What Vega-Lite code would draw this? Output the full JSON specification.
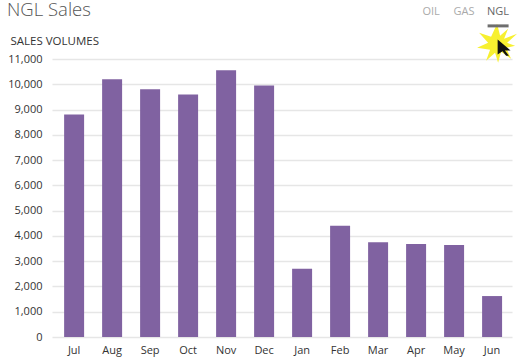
{
"$schema":"https://vega.github.io/schema/vega-lite/v6.json",
"width":460,"height":278,
"autosize":{"type":"none"},
"padding":{"left":52,"top":59,"right":7,"bottom":27},
"background":"white",
"title":{"text":"NGL Sales","anchor":"start","frame":"group","dx":-45,"offset":-14,"font":"Open Sans","fontSize":18.5,"fontWeight":300,"color":"#555555"},
"config":{"view":{"stroke":null},"font":"Open Sans"},
"encoding":{
"x":{"field":"month","type":"ordinal","scale":{"domain":["Jul","Aug","Sep","Oct","Nov","Dec","Jan","Feb","Mar","Apr","May","Jun"],"paddingInner":0.474,"paddingOuter":0.29,"align":0.55},
"axis":{"title":null,"labelAngle":0,"domain":false,"ticks":false,"labelFontSize":11,"labelColor":"#333333","labelPadding":7,"grid":false}},
"y":{"field":"volume","type":"quantitative","scale":{"domain":[0,11000],"nice":false},
"axis":{"title":"SALES VOLUMES","titleAngle":0,"titleAlign":"left","titleX":-42,"titleY":-13,"titleFontSize":11.5,"titleFontWeight":"normal","titleColor":"#333333","domain":false,"ticks":false,"tickCount":12,"format":",.0f","labelFontSize":11,"labelColor":"#333333","labelPadding":10,"grid":true,"gridColor":"#e6e6e6","gridWidth":1.5}}
},
"layer":[
{"data":{"values":[
{"month":"Jul","volume":8800},{"month":"Aug","volume":10200},{"month":"Sep","volume":9800},{"month":"Oct","volume":9600},{"month":"Nov","volume":10550},{"month":"Dec","volume":9950},{"month":"Jan","volume":2700},{"month":"Feb","volume":4400},{"month":"Mar","volume":3750},{"month":"Apr","volume":3680},{"month":"May","volume":3640},{"month":"Jun","volume":1620}]},
"mark":{"type":"bar","color":"#8062a1"}},
{"data":{"values":[{"month":"Jun","volume":11600}]},
"mark":{"type":"point","filled":true,"opacity":1,"color":"#f7f030","size":1600,"xOffset":5,"clip":false,"shape":"M0,-1 L0.15,-0.4 L0.55,-0.75 L0.35,-0.25 L1,-0.5 L0.5,-0.05 L0.9,0.1 L0.45,0.2 L0.7,0.75 L0.2,0.4 L0.05,0.95 L-0.1,0.45 L-0.55,0.85 L-0.35,0.3 L-1,0.2 L-0.45,-0.05 L-0.9,-0.55 L-0.3,-0.35 Z"}},
{"data":{"values":[{"month":"Jun","volume":11450}]},
"mark":{"type":"point","filled":true,"opacity":1,"color":"#111111","size":260,"xOffset":12,"clip":false,"shape":"M-0.8,-1 L0.8,0.35 L0.1,0.35 L0.6,1 L0.25,1 L-0.2,0.45 L-0.8,0.85 Z"}},
{"data":{"values":[{"month":"Jun","volume":12310}]},
"mark":{"type":"tick","orient":"horizontal","size":21,"thickness":3,"color":"#6e6e6e","xOffset":6,"opacity":1}},
{"data":{"values":[{"month":"Apr","volume":12870,"tab":"OIL"}]},
"mark":{"type":"text","dx":15,"fontSize":11,"color":"#aaaaaa"},"encoding":{"text":{"field":"tab"}}},
{"data":{"values":[{"month":"May","volume":12870,"tab":"GAS"}]},
"mark":{"type":"text","dx":10,"fontSize":11,"color":"#aaaaaa"},"encoding":{"text":{"field":"tab"}}},
{"data":{"values":[{"month":"Jun","volume":12870,"tab":"NGL"}]},
"mark":{"type":"text","dx":6,"fontSize":11,"color":"#666666"},"encoding":{"text":{"field":"tab"}}}
]
}
